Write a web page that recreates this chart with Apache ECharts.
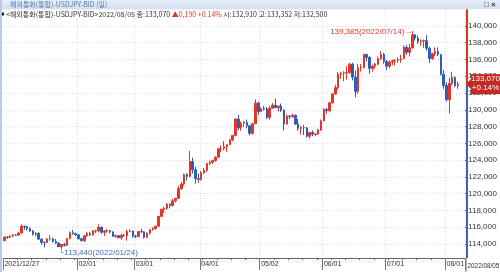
<!DOCTYPE html>
<html><head><meta charset="utf-8">
<script src="https://cdn.jsdelivr.net/npm/echarts@6/dist/echarts.min.js"></script>
<style>html,body{margin:0;padding:0;background:#fff}#c{width:500px;height:272px}</style>
</head><body><div id="c"></div>
<script>
const dates = [
'2021/12/27','2021/12/28','2021/12/29','2021/12/30','2021/12/31',
'2022/01/03','2022/01/04','2022/01/05','2022/01/06','2022/01/07','2022/01/10','2022/01/11','2022/01/12','2022/01/13','2022/01/14',
'2022/01/17','2022/01/18','2022/01/19','2022/01/20','2022/01/21','2022/01/24','2022/01/25','2022/01/26','2022/01/27','2022/01/28','2022/01/31',
'2022/02/01','2022/02/02','2022/02/03','2022/02/04','2022/02/07','2022/02/08','2022/02/09','2022/02/10','2022/02/11',
'2022/02/14','2022/02/15','2022/02/16','2022/02/17','2022/02/18','2022/02/21','2022/02/22','2022/02/23','2022/02/24','2022/02/25','2022/02/28',
'2022/03/01','2022/03/02','2022/03/03','2022/03/04','2022/03/07','2022/03/08','2022/03/09','2022/03/10','2022/03/11',
'2022/03/14','2022/03/15','2022/03/16','2022/03/17','2022/03/18','2022/03/21','2022/03/22','2022/03/23','2022/03/24','2022/03/25',
'2022/03/28','2022/03/29','2022/03/30','2022/03/31',
'2022/04/01','2022/04/04','2022/04/05','2022/04/06','2022/04/07','2022/04/08','2022/04/11','2022/04/12','2022/04/13','2022/04/14','2022/04/15',
'2022/04/18','2022/04/19','2022/04/20','2022/04/21','2022/04/22','2022/04/25','2022/04/26','2022/04/27','2022/04/28','2022/04/29',
'2022/05/02','2022/05/03','2022/05/04','2022/05/05','2022/05/06','2022/05/09','2022/05/10','2022/05/11','2022/05/12','2022/05/13',
'2022/05/16','2022/05/17','2022/05/18','2022/05/19','2022/05/20','2022/05/23','2022/05/24','2022/05/25','2022/05/26','2022/05/27','2022/05/30','2022/05/31',
'2022/06/01','2022/06/02','2022/06/03','2022/06/06','2022/06/07','2022/06/08','2022/06/09','2022/06/10',
'2022/06/13','2022/06/14','2022/06/15','2022/06/16','2022/06/17','2022/06/20','2022/06/21','2022/06/22','2022/06/23','2022/06/24',
'2022/06/27','2022/06/28','2022/06/29','2022/06/30',
'2022/07/01','2022/07/04','2022/07/05','2022/07/06','2022/07/07','2022/07/08','2022/07/11','2022/07/12','2022/07/13','2022/07/14','2022/07/15',
'2022/07/18','2022/07/19','2022/07/20','2022/07/21','2022/07/22','2022/07/25','2022/07/26','2022/07/27','2022/07/28','2022/07/29',
'2022/08/01','2022/08/02','2022/08/03','2022/08/04','2022/08/05'
];
const opens = [
114.40,114.84,114.82,114.96,115.08,115.06,115.30,116.12,116.05,115.82,
115.55,115.18,115.28,114.58,114.20,114.18,114.60,114.62,114.30,114.12,
113.68,113.96,113.85,114.65,115.35,115.25,115.10,114.62,114.40,114.98,
115.25,115.10,115.55,115.58,116.00,115.40,115.55,115.60,115.45,114.92,
115.00,114.75,115.05,114.98,115.50,115.55,114.95,114.90,115.48,115.45,
114.80,115.30,115.70,115.85,116.12,117.30,118.15,118.28,118.75,118.60,
119.15,119.45,120.60,121.15,122.30,122.05,123.85,122.85,121.80,121.70,
122.50,122.80,123.60,123.75,123.95,124.35,125.35,125.40,125.60,125.85,
126.40,126.95,128.90,127.85,128.40,128.50,128.10,127.20,128.35,130.80,
129.80,130.15,130.10,129.10,130.20,130.55,130.25,130.45,129.95,128.30,
129.25,129.20,129.35,128.30,127.80,127.90,127.85,126.85,127.30,127.10,
127.12,127.60,128.70,130.05,129.90,130.85,131.90,132.65,134.25,134.35,
134.40,134.45,135.45,133.90,132.20,135.00,135.05,136.60,136.25,134.95,
135.20,135.45,136.10,136.60,135.75,135.20,135.70,135.85,135.90,136.00,
136.10,137.45,136.85,137.40,138.95,138.55,138.15,138.20,138.25,137.35,
136.10,136.70,136.95,136.60,134.25,132.90,131.20,133.15,133.85,132.91
];
const closes = [
114.84,114.82,114.96,115.08,115.06,115.30,116.12,116.05,115.82,115.55,
115.18,115.28,114.58,114.20,114.18,114.60,114.62,114.30,114.12,113.68,
113.96,113.85,114.65,115.35,115.25,115.10,114.62,114.40,114.98,115.25,
115.10,115.55,115.58,116.00,115.40,115.55,115.60,115.45,114.92,115.00,
114.75,115.05,114.98,115.50,115.55,114.95,114.90,115.48,115.45,114.80,
115.30,115.70,115.85,116.12,117.30,118.15,118.28,118.75,118.60,119.15,
119.45,120.60,121.15,122.30,122.05,123.85,122.85,121.80,121.70,122.50,
122.80,123.60,123.75,123.95,124.35,125.35,125.40,125.60,125.85,126.40,
126.95,128.90,127.85,128.40,128.50,128.10,127.20,128.35,130.80,129.80,
130.15,130.10,129.10,130.20,130.55,130.25,130.45,129.95,128.30,129.25,
129.20,129.35,128.30,127.80,127.90,127.85,126.85,127.30,127.10,127.12,
127.60,128.70,130.05,129.90,130.85,131.90,132.65,134.25,134.35,134.40,
134.45,135.45,133.90,132.20,135.00,135.05,136.60,136.25,134.95,135.20,
135.45,136.10,136.60,135.75,135.20,135.70,135.85,135.90,136.00,136.10,
137.45,136.85,137.40,138.95,138.55,138.15,138.20,138.25,137.35,136.10,
136.70,136.95,136.60,134.25,132.90,131.20,133.15,133.85,132.88,133.07
];
const highs = [
114.90,114.93,115.05,115.20,115.20,115.43,116.35,116.20,116.15,116.00,
115.65,115.45,115.40,114.65,114.30,114.70,115.05,114.75,114.60,114.20,
114.00,114.15,114.70,115.50,115.68,115.35,115.20,114.75,115.10,115.45,
115.45,115.65,115.70,116.35,116.10,115.65,115.80,115.65,115.50,115.15,
115.05,115.25,115.20,115.70,115.75,115.60,115.10,115.55,115.80,115.50,
115.40,115.80,116.00,116.20,117.35,118.20,118.45,118.90,118.85,119.40,
119.50,120.95,121.40,122.40,122.45,125.09,124.30,123.20,122.40,122.70,
123.05,123.70,123.95,124.05,124.45,125.45,125.75,126.30,125.90,126.55,
127.00,129.00,129.40,128.60,128.70,128.85,128.20,128.45,131.25,131.00,
130.30,130.45,130.35,130.45,130.80,131.35,130.50,130.75,130.05,129.45,
129.40,129.55,129.45,128.90,128.10,128.20,127.95,127.40,127.55,127.25,
127.75,128.85,130.20,130.25,130.95,132.00,133.00,134.50,134.55,134.60,
135.20,135.60,135.60,134.70,135.45,135.45,136.70,136.70,136.40,135.40,
135.60,136.35,137.00,136.80,135.95,135.90,136.00,136.05,136.25,136.55,
137.70,137.75,137.85,139.385,139.05,138.85,138.40,138.40,138.90,137.55,
136.80,137.45,137.45,136.60,134.75,133.30,133.85,134.55,134.00,133.352
];
const lows = [
114.35,114.60,114.70,114.85,114.95,115.00,115.25,115.70,115.60,115.45,
115.00,114.90,114.55,113.95,113.60,114.15,114.40,114.15,114.00,113.65,
113.44,113.70,113.80,114.55,115.10,114.95,114.55,114.30,114.25,114.85,
114.95,115.00,115.30,115.40,115.20,114.95,115.35,115.25,114.85,114.75,
114.70,114.50,114.90,114.40,115.40,114.75,114.70,114.85,115.35,114.65,
114.75,115.10,115.60,115.70,116.05,117.20,117.70,118.10,118.25,118.45,
118.95,119.40,120.45,120.95,121.60,121.95,122.40,121.20,121.30,121.55,
122.35,122.55,123.40,123.55,123.80,124.30,124.95,125.15,125.00,125.80,
126.25,126.85,127.60,127.50,127.95,127.80,126.95,127.05,128.30,129.40,
129.70,129.90,128.90,128.80,130.10,130.30,129.80,129.75,127.55,128.25,
128.90,129.00,128.20,127.50,127.05,127.00,126.70,126.55,126.85,126.85,
127.00,127.50,128.60,129.55,129.70,130.75,131.80,132.40,133.70,133.40,
133.60,134.30,133.50,131.50,131.90,134.55,134.95,135.75,134.30,134.55,
134.90,135.30,135.95,135.50,134.75,134.95,135.35,135.30,135.60,135.60,
136.05,136.55,136.35,137.30,138.25,137.85,137.65,137.40,137.05,135.60,
135.95,136.40,136.40,134.10,132.50,131.00,129.55,132.90,132.70,132.50
];
const xLabelDates = ['2021/12/27','2022/02/01','2022/03/01','2022/04/01','2022/05/02','2022/06/01','2022/07/01','2022/08/01'];
const yMin = 112, yMax = 142, yStep = 2;
const highMark = { date: '2022/07/14', value: 139.385 };
const lowMark = { date: '2022/01/24', value: 113.44 };
const titleText = '해외통화(통합)-USDJPY-BID (일)';
const symbolName = '해외통화(통합)-USDJPY-BID';

const UP = '#e5352b', DOWN = '#2f5db5';
const NUM_FONT = '"Liberation Sans Narrow","Liberation Sans","Noto Sans CJK KR",sans-serif';
const KR_FONT = '"Noto Sans CJK KR","Liberation Sans",sans-serif';
const fmt = v => v.toFixed(3).replace('.', ',');

const cats = dates.concat(['', '']);
const labelIdx = new Set(xLabelDates.map(d => dates.indexOf(d)));
const isMonday = i => i < dates.length && new Date(dates[i]).getDay() === 1;
const candles = dates.map((d, i) => [opens[i], closes[i], lows[i], highs[i]]);
const last = dates.length - 1;
const lastClose = closes[last], prevClose = closes[last - 1];
const chg = lastClose - prevClose, pct = chg / prevClose * 100;

const chart = echarts.init(document.getElementById('c'), null, { renderer: 'canvas' });
const GRID_BOTTOM = 11.2, AX_OFF = -2.8;
chart.setOption({
  animation: false,
  backgroundColor: '#ffffff',
  grid: { left: 3, right: 33, top: 9.2, bottom: GRID_BOTTOM, containLabel: false },
  xAxis: [
    { type: 'category', data: cats, boundaryGap: true, offset: AX_OFF,
      axisLine: { show: true, lineStyle: { color: '#666', width: 1 } },
      axisTick: { show: true, length: 2, interval: (i) => isMonday(i) && !labelIdx.has(i), lineStyle: { color: '#666' } },
      axisLabel: { show: false },
      splitLine: { show: true, interval: (i) => labelIdx.has(i) && i > 0, lineStyle: { color: '#d9d9d9', type: [1, 2] } } },
    { type: 'category', data: cats, boundaryGap: true, offset: AX_OFF, position: 'bottom',
      axisLine: { show: false },
      axisTick: { show: true, length: 12, interval: (i) => labelIdx.has(i), lineStyle: { color: '#777' } },
      axisLabel: { show: true, interval: (i) => labelIdx.has(i), align: 'left', margin: 3,
        fontSize: 7, color: '#333', fontFamily: NUM_FONT,
        formatter: (v, i) => i === 0 ? v : v.slice(5) },
      splitLine: { show: false } }
  ],
  yAxis: {
    type: 'value', position: 'right', min: yMin, max: yMax, interval: yStep,
    axisLine: { show: false },
    axisTick: { show: true, length: 2, lineStyle: { color: '#555' } },
    axisLabel: { show: true, margin: 3, fontSize: 8, color: '#333', fontFamily: NUM_FONT,
      showMinLabel: false, showMaxLabel: false, formatter: v => fmt(v) },
    splitLine: { show: true, lineStyle: { color: '#dcdcdc', type: [1, 2] } }
  },
  series: [{
    type: 'candlestick', data: candles, xAxisIndex: 0, barWidth: '70%',
    itemStyle: { color: UP, color0: DOWN, borderColor: UP, borderColor0: DOWN, borderWidth: 1 },
    markPoint: {
      symbol: 'circle', symbolSize: 0, animation: false,
      data: [
        { coord: [dates.indexOf(highMark.date), highMark.value],
          label: { show: true, position: 'left', distance: 0, offset: [0, 1], color: '#e5352b', fontSize: 8, fontFamily: NUM_FONT,
            formatter: fmt(highMark.value) + '(' + highMark.date + ')→' } },
        { coord: [dates.indexOf(lowMark.date), lowMark.value],
          label: { show: true, position: 'right', distance: 0, offset: [-3, 4], color: '#3a6fc0', fontSize: 8, fontFamily: NUM_FONT,
            formatter: '└' + fmt(lowMark.value) + '(' + lowMark.date + ')' } }
      ]
    }
  }]
});

const AX_X = 467;
const yTop = chart.convertToPixel({ yAxisIndex: 0 }, yMax);
const yBot = chart.convertToPixel({ yAxisIndex: 0 }, yMin) + AX_OFF;
const py = chart.convertToPixel({ yAxisIndex: 0 }, lastClose);

chart.setOption({
  graphic: [
    { type: 'line', z: 100, shape: { x1: AX_X, y1: yTop, x2: AX_X, y2: py }, style: { stroke: '#d6362c', lineWidth: 2 } },
    { type: 'line', z: 100, shape: { x1: AX_X, y1: py, x2: AX_X, y2: yBot }, style: { stroke: '#4064aa', lineWidth: 2 } },
    { type: 'line', z: 100, shape: { x1: AX_X - 1, y1: yBot, x2: AX_X - 1, y2: 272 }, style: { stroke: '#777', lineWidth: 1 } },
    { type: 'polygon', z: 101, shape: { points: [[466, py], [471, py - 5], [471, py + 5]] }, style: { fill: '#c42a22' } },
    { type: 'rect', z: 101, shape: { x: 471, y: py - 10, width: 29, height: 20 }, style: { fill: '#c42a22' } },
    { type: 'text', z: 102, x: 485.5, y: py - 5, style: { text: fmt(lastClose), fill: '#fff', font: '8px ' + NUM_FONT, align: 'center', verticalAlign: 'middle' } },
    { type: 'text', z: 102, x: 485.5, y: py + 4, style: { text: (chg >= 0 ? '+' : '') + pct.toFixed(2) + '%', fill: '#fff', font: '8px ' + NUM_FONT, align: 'center', verticalAlign: 'middle' } },
    { type: 'text', z: 102, x: 467.5, y: yBot + 7.6, scaleX: 0.85, originX: 0, style: { text: dates[last], fill: '#333', font: '7.5px ' + NUM_FONT, align: 'left', verticalAlign: 'middle' } },
    // title bar
    { type: 'rect', z: 110, shape: { x: 0, y: 0, width: 500, height: 9 },
      style: { fill: new echarts.graphic.LinearGradient(0, 0, 0, 1, [{ offset: 0, color: '#e6eef9' }, { offset: 1, color: '#d3e0f2' }]) } },
    { type: 'text', z: 111, x: 10, y: 4.8, style: { text: titleText, fill: '#5679ad', font: '7px ' + KR_FONT, verticalAlign: 'middle' } },
    { type: 'text', z: 111, x: 484, y: 4.8, style: { text: '□ ×', fill: '#333', font: 'bold 8px ' + NUM_FONT, verticalAlign: 'middle' } },
    // window left border
    { type: 'rect', z: 110, shape: { x: 0, y: 0, width: 2, height: 272 }, style: { fill: '#b9cce6' } },
    // info line
    { type: 'rect', z: 111, shape: { x: 2, y: 12.5, width: 2, height: 3 }, style: { fill: '#111' } },
    { type: 'text', z: 111, x: 6, y: 14.5, style: {
        text: '{a|<' + symbolName + '>' + dates[last] + ' 종:' + fmt(lastClose) + ' }{r|▲' + fmt(chg) + ' +' + pct.toFixed(2) + '%}{a| 시:' + fmt(opens[last]) + ' 고:' + fmt(highs[last]) + ' 저:' + fmt(lows[last]) + '}',
        verticalAlign: 'middle',
        rich: { a: { fill: '#333', font: '7px ' + KR_FONT }, r: { fill: '#e5352b', font: '7px ' + KR_FONT } } } }
  ]
});
</script></body></html>
